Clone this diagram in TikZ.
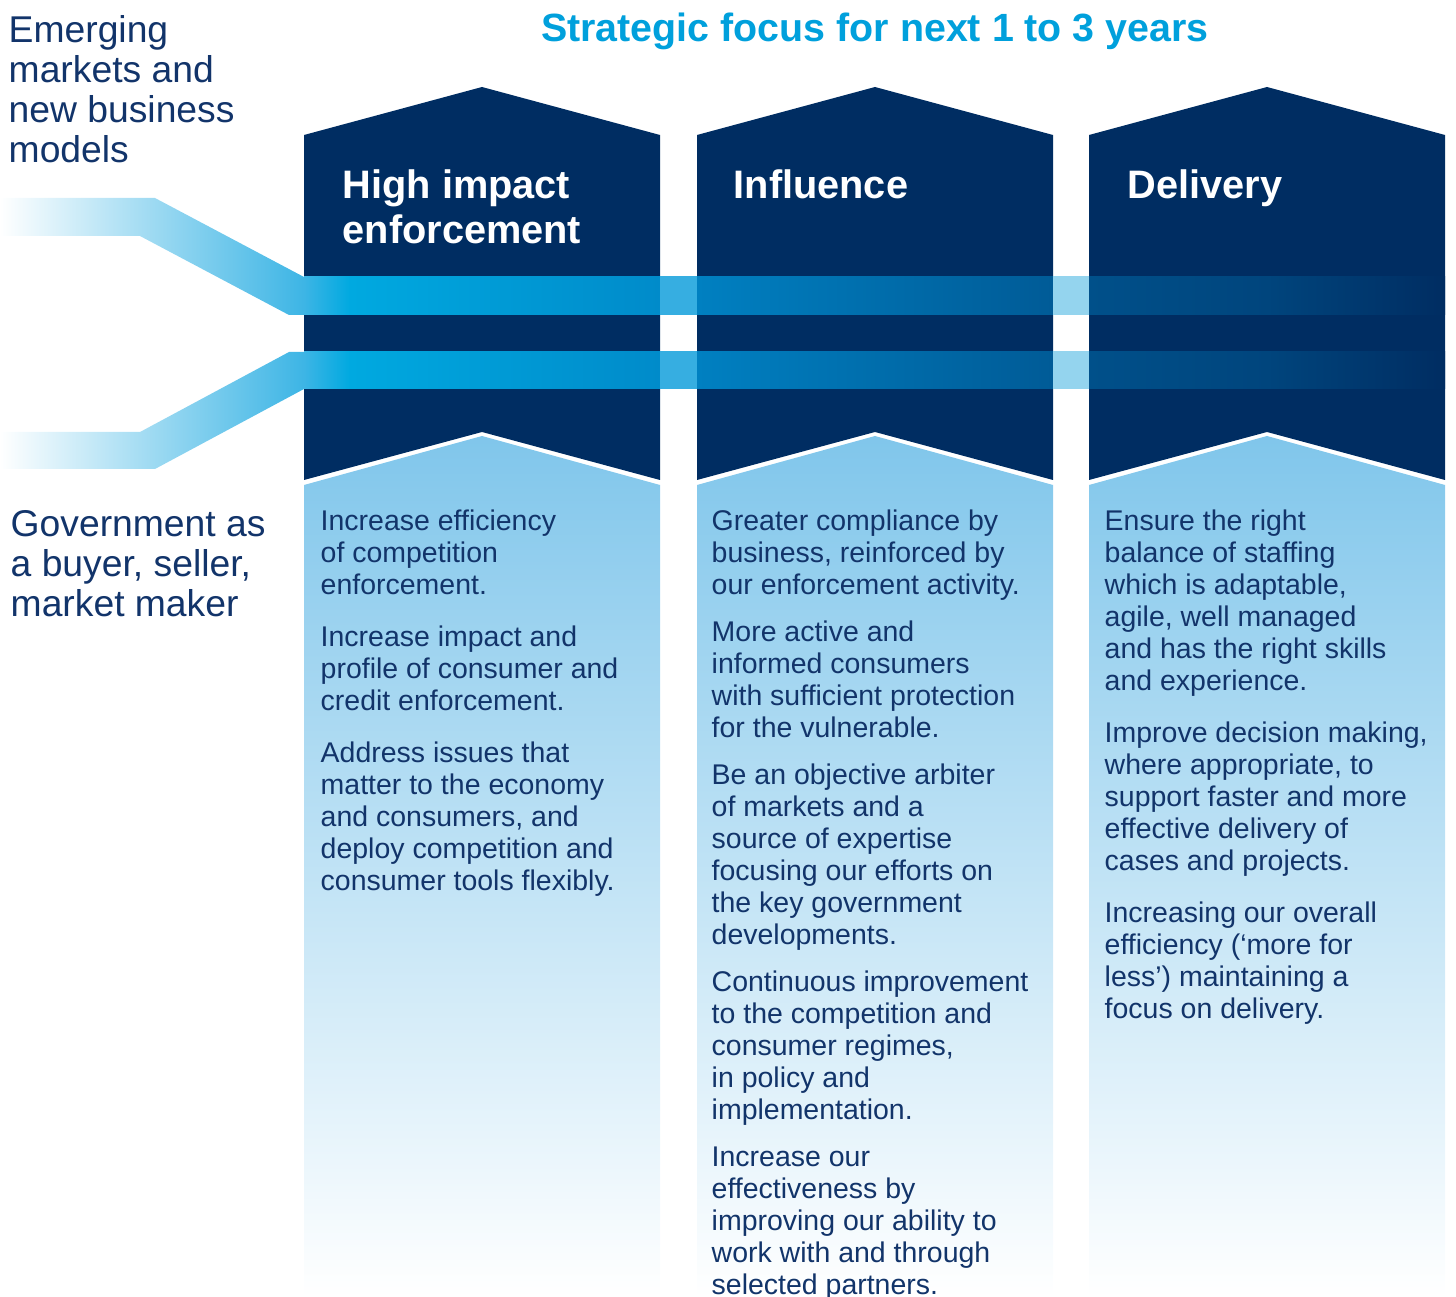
\documentclass[tikz,border=0pt]{standalone}
\usepackage{fontspec}
\setmainfont{Liberation Sans}
\usepackage{xcolor}
\usetikzlibrary{positioning}
\definecolor{navy}{HTML}{002D62}
\definecolor{textnavy}{HTML}{12346A}
\definecolor{titlecyan}{HTML}{00A0DC}
\definecolor{paleblue}{HTML}{80C6EB}
\definecolor{feedblue}{HTML}{3DB5E5}
\definecolor{bandcyan}{HTML}{00A9E0}
\definecolor{bandmid}{HTML}{008BCA}
\definecolor{bandgapa}{HTML}{36AEE1}
\definecolor{bandtwo}{HTML}{0080C1}
\definecolor{bandtwoend}{HTML}{005B97}
\definecolor{bandgapb}{HTML}{94D4EE}
\definecolor{bandthree}{HTML}{00508A}
\definecolor{bandthreemid}{HTML}{00457D}
\tikzset{
  mytitle/.style={
    text=titlecyan,
    font=\bfseries\fontsize{11.2}{13}\selectfont,
    inner sep=0pt,
    anchor=base,
  },
  myside/.style={
    text=textnavy,
    align=left,
    inner sep=0pt,
    anchor=north west,
    font=\fontsize{10.6}{11.4}\selectfont
  },
  myhead/.style={
    text=white,
    align=left,
    inner sep=0pt,
    anchor=north west,
    font=\bfseries\fontsize{11.3}{12.8}\selectfont
  },
  mybody/.style={
    text=textnavy,
    align=left,
    inner sep=0pt,
    anchor=north west,
    font=\fontsize{8.1}{9.1}\selectfont
  },
}
% one slice of both horizontal bands: from x #1 to x #2, colour #3 to #4
\newcommand{\bandpiece}[4]{%
  \shade[left color=#3, right color=#4] (#1,277) rectangle (#2,315);
  \shade[left color=#3, right color=#4] (#1,352) rectangle (#2,389);
}

\begin{document}
\begin{tikzpicture}[x=0.01cm, y=-0.01cm]
    \useasboundingbox (0,0) rectangle (1456,1297);

    % the three columns: dark arrow head on top, pale body below
    \foreach \cx in {304,697,1089} {
      \fill[navy] (\cx,135) -- (\cx+178,87) -- (\cx+356,135) -- (\cx+356,480)
                  -- (\cx+178,432) -- (\cx,480) -- cycle;
      \shade[top color=paleblue, bottom color=white]
                  (\cx,485) -- (\cx+178,436) -- (\cx+356,485) -- (\cx+356,1297)
                  -- (\cx,1297) -- cycle;
    }

    % feeders coming in from the left
    \shade[left color=white, right color=feedblue]
      (0,198) -- (155,198) -- (304,277) -- (304,315) -- (289,315) -- (140,236) -- (0,236) -- cycle;
    \shade[left color=white, right color=feedblue]
      (0,432) -- (140,432) -- (289,352) -- (304,352) -- (304,389) -- (155,469) -- (0,469) -- cycle;

    % bands running through the columns and the gaps
    \bandpiece{304}{350}{feedblue}{bandcyan}
    \bandpiece{350}{660}{bandcyan}{bandmid}
    \bandpiece{660}{697}{bandgapa}{bandgapa}
    \bandpiece{697}{1053}{bandtwo}{bandtwoend}
    \bandpiece{1053}{1089}{bandgapb}{bandgapb}
    \bandpiece{1089}{1267}{bandthree}{bandthreemid}
    \bandpiece{1267}{1445}{bandthreemid}{navy}

    \node[mytitle] (title) at (875,42) {Strategic focus for next 1 to 3 years};

    \node[myside] (emerging)   at (8,15)   {Emerging\\markets and\\new business\\models};
    \node[myside] (government) at (10,510) {Government as\\a buyer, seller,\\market maker};

    \node[myhead] (headimpact)    at (342,169)  {High impact\\enforcement};
    \node[myhead] (headinfluence) at (733,169)  {Influence};
    \node[myhead] (headdelivery)  at (1127,169) {Delivery};

    \node[mybody] (bodyimpact) at (320,509) {Increase efficiency\\of competition\\enforcement.\\[5.7pt]
      Increase impact and\\profile of consumer and\\credit enforcement.\\[5.7pt]
      Address issues that\\matter to the economy\\and consumers, and\\deploy competition and\\consumer tools flexibly.};

    \node[mybody] (bodyinfluence) at (711,509) {Greater compliance by\\business, reinforced by\\our enforcement activity.\\[4.3pt]
      More active and\\informed consumers\\with sufficient protection\\for the vulnerable.\\[4.3pt]
      Be an objective arbiter\\of markets and a\\source of expertise\\focusing our efforts on\\the key government\\developments.\\[4.3pt]
      Continuous improvement\\to the competition and\\consumer regimes,\\in policy and\\implementation.\\[4.3pt]
      Increase our\\effectiveness by\\improving our ability to\\work with and through\\selected partners.};

    \node[mybody] (bodydelivery) at (1104,509) {Ensure the right\\balance of staffing\\which is adaptable,\\agile, well managed\\and has the right skills\\and experience.\\[5.7pt]
      Improve decision making,\\where appropriate, to\\support faster and more\\effective delivery of\\cases and projects.\\[5.7pt]
      Increasing our overall\\efficiency (‘more for\\less’) maintaining a\\focus on delivery.};
\end{tikzpicture}
\end{document}
